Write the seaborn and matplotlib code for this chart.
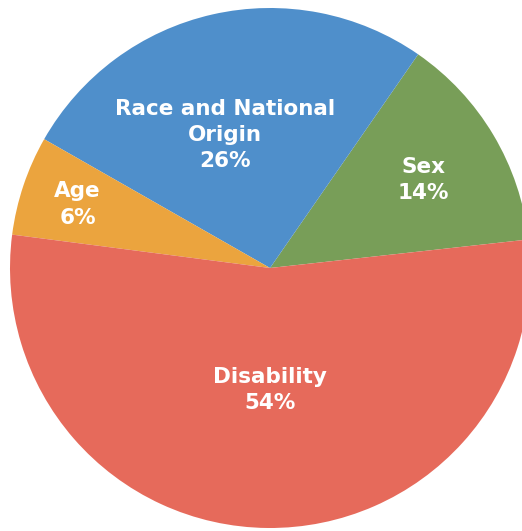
import matplotlib
matplotlib.use("Agg")
import matplotlib.pyplot as plt
import seaborn as sns
import numpy as np

# Datos del grafico (orden antihorario desde la derecha)
categorias = ["Sex", "Race and National\nOrigin", "Age", "Disability"]
porcentajes = [13.6, 26.4, 6.2, 53.8]
colores = ["#789e58", "#4f8fcb", "#eba43e", "#e66a5b"]

# Ajustes de posicion de las etiquetas (distancia radial, desfase en grados)
dist_etiqueta = [0.68, 0.54, 0.78, 0.47]
desfase_etiqueta = [-1.0, 6.0, 0.3, 0.5]

sns.set_theme(style="white")
plt.rcParams['font.family'] = ['DejaVu Sans']

fig = plt.figure(figsize=(5.22, 5.31), dpi=100)
ax = fig.add_axes([10 / 522, 3 / 531, 520 / 522, 520 / 531])

wedges, _ = ax.pie(porcentajes, colors=colores, startangle=6.3, counterclock=True,
                   radius=1.0, wedgeprops=dict(linewidth=0))

for w, cat, val, d, off in zip(wedges, categorias, porcentajes, dist_etiqueta, desfase_etiqueta):
    ang = np.deg2rad((w.theta1 + w.theta2) / 2 + off)
    ax.text(d * np.cos(ang), d * np.sin(ang), f"{cat}\n{round(val)}%",
            ha="center", va="center", color="white", fontsize=15.5,
            fontweight="bold", linespacing=1.38)

ax.set_xlim(-1, 1)
ax.set_ylim(-1, 1)
ax.set_aspect("equal")
ax.axis("off")

fig.savefig("out.png", dpi=100)
